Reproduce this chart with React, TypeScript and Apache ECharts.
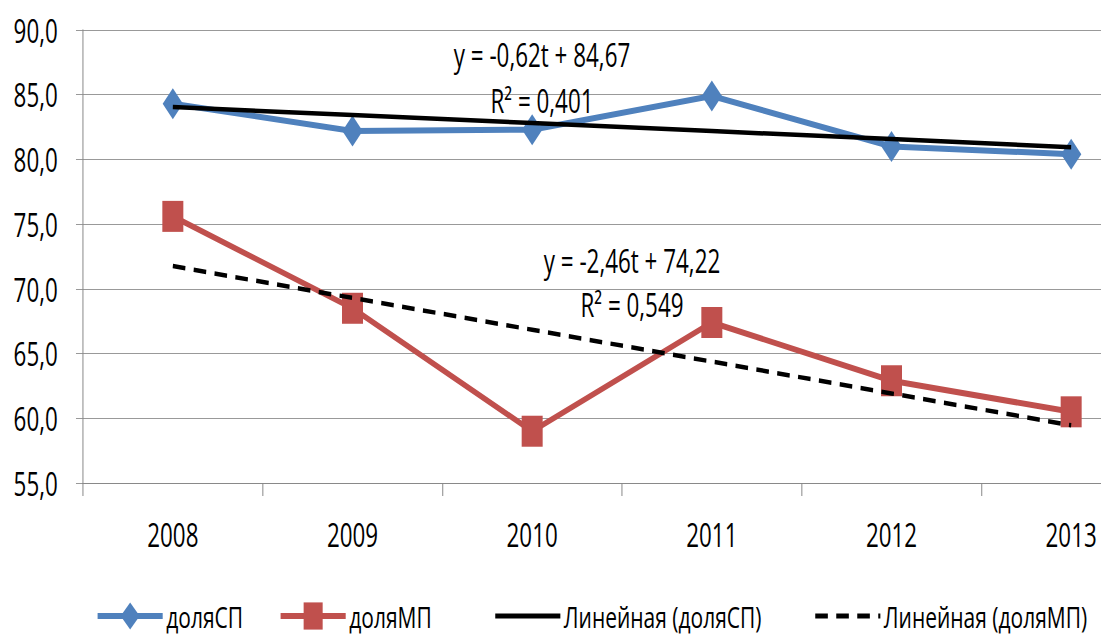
import React, { useEffect, useRef } from "react";
import * as echarts from "echarts";

const years = ["2008", "2009", "2010", "2011", "2012", "2013"];
const shareSP = [84.3, 82.2, 82.3, 84.9, 81.0, 80.4];
const shareMP = [75.6, 68.5, 59.0, 67.4, 62.9, 60.5];
// trend lines: y = -0,62t + 84,67 and y = -2,46t + 74,22 at t = 1..6
const trendSP = [84.05, 83.43, 82.81, 82.19, 81.57, 80.95];
const trendMP = [71.76, 69.3, 66.84, 64.38, 61.92, 59.46];
const yTicks = { min: 55, max: 90, interval: 5 };
const eqSP = "y = -0,62t + 84,67";
const r2SP = "R² = 0,401";
const eqMP = "y = -2,46t + 74,22";
const r2MP = "R² = 0,549";
const names = ["доляСП", "доляМП", "Линейная (доляСП)", "Линейная (доляМП)"];

const SX = 0.7; // horizontal compression of the reference picture
const FONT = "'Open Sans', 'Noto Sans', 'DejaVu Sans', sans-serif";
const FS = 32;
const LFS = 30;
const BLUE = "#4F81BD";
const RED = "#C0504D";
const GRID = "#868686";

const px = (screenX: number) => screenX / SX;

export default function App() {
  const ref = useRef<HTMLDivElement>(null);
  useEffect(() => {
    document.body.style.margin = "0";
    const chart = echarts.init(ref.current!, null, { renderer: "svg" });
    const legendBase = {
      top: 596,
      itemWidth: 93,
      itemHeight: 34,
      textStyle: { fontFamily: FONT, fontSize: LFS, color: "#000" },
    };
    const textStyle = (t: string) => ({
      text: t,
      font: `${FS}px ${FONT}`,
      fill: "#000",
      align: "center",
      verticalAlign: "middle",
    });
    chart.setOption({
      animation: false,
      backgroundColor: "#fff",
      grid: { left: px(83), top: 30, width: px(1078), height: 453 },
      xAxis: {
        type: "category",
        data: years,
        boundaryGap: true,
        axisLine: { lineStyle: { color: GRID, width: 1 } },
        axisTick: { show: true, length: 13, lineStyle: { color: GRID, width: 1.4 } },
        axisLabel: { fontFamily: FONT, fontSize: FS, color: "#000", margin: 35 },
      },
      yAxis: {
        type: "value",
        min: yTicks.min,
        max: yTicks.max,
        interval: yTicks.interval,
        axisLine: { show: true, lineStyle: { color: GRID, width: 1.4 } },
        axisTick: { show: true, length: 10, lineStyle: { color: GRID, width: 1 } },
        splitLine: { show: true, lineStyle: { color: GRID, width: 1 } },
        axisLabel: {
          fontFamily: FONT,
          fontSize: FS,
          color: "#000",
          margin: 36,
          formatter: (v: number) => v.toFixed(1).replace(".", ","),
        },
      },
      legend: [
        {
          ...legendBase,
          left: px(92),
          data: [{ name: names[0], lineStyle: { width: 6, color: BLUE } }],
        },
        {
          ...legendBase,
          left: px(275),
          data: [{ name: names[1], lineStyle: { width: 6, color: RED } }],
        },
        {
          ...legendBase,
          left: px(490),
          data: [{ name: names[2], itemStyle: { opacity: 0 }, lineStyle: { width: 5, color: "#000" } }],
        },
        {
          ...legendBase,
          left: px(810),
          data: [
            {
              name: names[3],
              itemStyle: { opacity: 0 },
              lineStyle: { width: 5, color: "#000", type: [18, 12] },
            },
          ],
        },
      ],
      series: [
        {
          name: names[0],
          type: "line",
          data: shareSP,
          color: BLUE,
          lineStyle: { color: BLUE, width: 6 },
          symbol: "diamond",
          symbolSize: [29, 31],
          itemStyle: { color: BLUE },
          z: 2,
        },
        {
          name: names[1],
          type: "line",
          data: shareMP,
          color: RED,
          lineStyle: { color: RED, width: 6 },
          symbol: "rect",
          symbolSize: [30, 31],
          itemStyle: { color: RED },
          z: 2,
        },
        {
          name: names[2],
          type: "line",
          data: trendSP,
          color: "#000",
          lineStyle: { color: "#000", width: 4.5 },
          symbol: "none",
          z: 3,
        },
        {
          name: names[3],
          type: "line",
          data: trendMP,
          color: "#000",
          lineStyle: { color: "#000", width: 4.5, type: [18, 12] },
          symbol: "none",
          z: 3,
        },
      ],
      graphic: [
        { type: "text", x: px(542), y: 54, style: textStyle(eqSP), z: 10 },
        { type: "text", x: px(542), y: 100, style: textStyle(r2SP), z: 10 },
        { type: "text", x: px(632), y: 260, style: textStyle(eqMP), z: 10 },
        { type: "text", x: px(632), y: 304, style: textStyle(r2MP), z: 10 },
      ],
    });
    return () => chart.dispose();
  }, []);
  return (
    <div style={{ width: 1101, height: 637, overflow: "hidden", position: "relative", background: "#fff" }}>
      <div
        ref={ref}
        style={{ width: 1660, height: 637, transform: `scaleX(${SX})`, transformOrigin: "0 0" }}
      />
    </div>
  );
}
